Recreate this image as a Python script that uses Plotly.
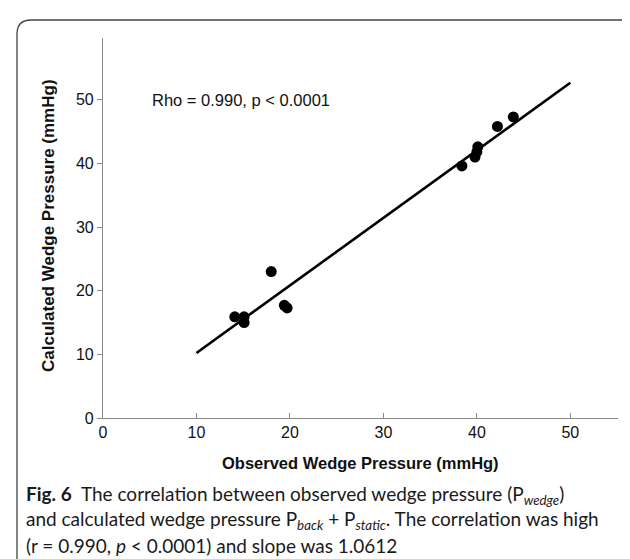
import plotly.graph_objects as go

observed = [14.1, 15.1, 15.1, 18.0, 19.4, 19.7, 38.4, 39.8, 40.0, 40.1, 42.2, 43.9]
calculated = [15.9, 15.9, 15.0, 23.0, 17.7, 17.3, 39.6, 41.0, 41.8, 42.6, 45.8, 47.3]
fit_x = [10, 50]
fit_slope = 1.0612
fit_intercept = -0.4
x_ticks = [0, 10, 20, 30, 40, 50]
y_ticks = [0, 10, 20, 30, 40, 50]

W, H = 630, 559
L, R, T, B = 95, 20, 30, 149
pw, ph = W - L - R, H - T - B

def px(x):
    return (x - L) / pw

def py(y):
    return (H - B - y) / ph

fig = go.Figure()
fig.add_trace(go.Scatter(
    x=fit_x, y=[fit_slope * v + fit_intercept for v in fit_x],
    mode="lines", line=dict(color="black", width=2.6), showlegend=False))
fig.add_trace(go.Scatter(
    x=observed, y=calculated, mode="markers",
    marker=dict(color="black", size=11), showlegend=False))

axis_common = dict(showgrid=False, zeroline=False, showline=True,
                   linecolor="#8a8a8a", linewidth=1.2, tickcolor="#8a8a8a",
                   ticklen=5, tickfont=dict(family="Liberation Sans, Arial", size=16, color="#111"))
fig.update_xaxes(range=[0, 55.1], tickvals=x_ticks, ticks="inside", **axis_common)
fig.update_yaxes(range=[0, 59.7], tickvals=y_ticks, ticks="outside", **axis_common)

# rounded frame
x0, x1 = px(9), px(627)
y0, y1 = py(12), py(575)
rx, ry = 14 / pw, 14 / ph
path = (f"M {x0+rx},{y0} L {x1-rx},{y0} Q {x1},{y0} {x1},{y0-ry} "
        f"L {x1},{y1+ry} Q {x1},{y1} {x1-rx},{y1} L {x0+rx},{y1} Q {x0},{y1} {x0},{y1+ry} "
        f"L {x0},{y0-ry} Q {x0},{y0} {x0+rx},{y0} Z")
fig.add_shape(type="path", path=path, xref="paper", yref="paper",
              line=dict(color="#444", width=1.3))

ann = []
ann.append(dict(text="Rho = 0.990, p < 0.0001", x=px(142), y=py(92), xref="paper", yref="paper",
                xanchor="left", yanchor="middle", showarrow=False,
                font=dict(family="Liberation Sans, Arial", size=16.5, color="#111")))
ann.append(dict(text="<b>Observed Wedge Pressure (mmHg)</b>", x=px(352), y=py(455), xref="paper", yref="paper",
                xanchor="center", yanchor="middle", showarrow=False,
                font=dict(family="Liberation Sans, Arial", size=16.5, color="#111")))
ann.append(dict(text="<b>Calculated Wedge Pressure (mmHg)</b>", x=px(40), y=py(218), xref="paper", yref="paper",
                xanchor="center", yanchor="middle", showarrow=False, textangle=-90,
                font=dict(family="Liberation Sans, Arial", size=17, color="#111")))
cap_font = dict(family="Lato, Noto Sans", size=19, color="#1a1a1a")
lines = [
    "<b>Fig. 6</b>  The correlation between observed wedge pressure (P<sub><i>wedge</i></sub>)",
    "and calculated wedge pressure P<sub><i>back</i></sub> + P<sub><i>static</i></sub>. The correlation was high",
    "(r = 0.990, <i>p</i> < 0.0001) and slope was 1.0612",
]
for i, t in enumerate(lines):
    ann.append(dict(text=t, x=px(16), y=py(487 + 25 * i), xref="paper", yref="paper",
                    xanchor="left", yanchor="middle", showarrow=False, font=cap_font))
fig.update_layout(annotations=ann, width=W, height=H,
                  margin=dict(l=L, r=R, t=T, b=B),
                  paper_bgcolor="white", plot_bgcolor="white")
fig.write_html("out.html")
